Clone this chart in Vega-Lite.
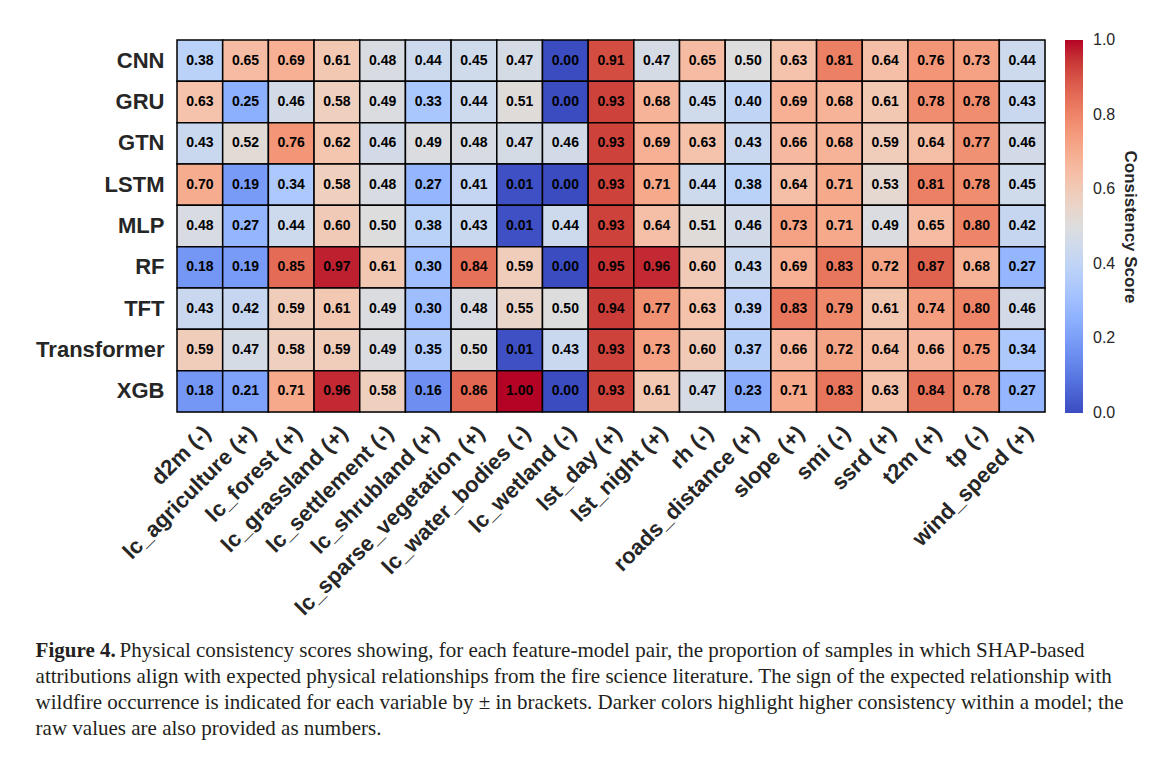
{
  "$schema": "https://vega.github.io/schema/vega-lite/v6.json",
  "autosize": {"type": "none"},
  "padding": {"left": 177, "top": 40, "right": 122, "bottom": 346},
  "width": 868,
  "height": 372,
  "background": "white",
  "title": {
    "text": "Figure 4.",
    "subtitle": [
      "\u200b\u00a0\u00a0\u00a0\u00a0\u00a0\u00a0\u00a0\u00a0\u00a0\u00a0\u00a0\u00a0\u00a0\u00a0\u00a0\u00a0Physical consistency scores showing, for each feature-model pair, the proportion of samples in which SHAP-based",
      "attributions align with expected physical relationships from the fire science literature. The sign of the expected relationship with",
      "wildfire occurrence is indicated for each variable by ± in brackets. Darker colors highlight higher consistency within a model; the",
      "raw values are also provided as numbers."
    ],
    "orient": "bottom",
    "anchor": "start",
    "frame": "bounds",
    "font": "Liberation Serif",
    "fontSize": 21,
    "fontWeight": "bold",
    "color": "#231f20",
    "subtitleFont": "Liberation Serif",
    "subtitleFontSize": 21,
    "subtitleFontWeight": "normal",
    "subtitleColor": "#231f20",
    "subtitleLineHeight": 26,
    "subtitlePadding": -21,
    "offset": 21
  },
  "data": {
    "values": [
      {"model": "CNN", "feature": "d2m (-)", "score": 0.38},
      {"model": "CNN", "feature": "lc_agriculture (+)", "score": 0.65},
      {"model": "CNN", "feature": "lc_forest (+)", "score": 0.69},
      {"model": "CNN", "feature": "lc_grassland (+)", "score": 0.61},
      {"model": "CNN", "feature": "lc_settlement (-)", "score": 0.48},
      {"model": "CNN", "feature": "lc_shrubland (+)", "score": 0.44},
      {"model": "CNN", "feature": "lc_sparse_vegetation (+)", "score": 0.45},
      {"model": "CNN", "feature": "lc_water_bodies (-)", "score": 0.47},
      {"model": "CNN", "feature": "lc_wetland (-)", "score": 0.00},
      {"model": "CNN", "feature": "lst_day (+)", "score": 0.91},
      {"model": "CNN", "feature": "lst_night (+)", "score": 0.47},
      {"model": "CNN", "feature": "rh (-)", "score": 0.65},
      {"model": "CNN", "feature": "roads_distance (+)", "score": 0.50},
      {"model": "CNN", "feature": "slope (+)", "score": 0.63},
      {"model": "CNN", "feature": "smi (-)", "score": 0.81},
      {"model": "CNN", "feature": "ssrd (+)", "score": 0.64},
      {"model": "CNN", "feature": "t2m (+)", "score": 0.76},
      {"model": "CNN", "feature": "tp (-)", "score": 0.73},
      {"model": "CNN", "feature": "wind_speed (+)", "score": 0.44},
      {"model": "GRU", "feature": "d2m (-)", "score": 0.63},
      {"model": "GRU", "feature": "lc_agriculture (+)", "score": 0.25},
      {"model": "GRU", "feature": "lc_forest (+)", "score": 0.46},
      {"model": "GRU", "feature": "lc_grassland (+)", "score": 0.58},
      {"model": "GRU", "feature": "lc_settlement (-)", "score": 0.49},
      {"model": "GRU", "feature": "lc_shrubland (+)", "score": 0.33},
      {"model": "GRU", "feature": "lc_sparse_vegetation (+)", "score": 0.44},
      {"model": "GRU", "feature": "lc_water_bodies (-)", "score": 0.51},
      {"model": "GRU", "feature": "lc_wetland (-)", "score": 0.00},
      {"model": "GRU", "feature": "lst_day (+)", "score": 0.93},
      {"model": "GRU", "feature": "lst_night (+)", "score": 0.68},
      {"model": "GRU", "feature": "rh (-)", "score": 0.45},
      {"model": "GRU", "feature": "roads_distance (+)", "score": 0.40},
      {"model": "GRU", "feature": "slope (+)", "score": 0.69},
      {"model": "GRU", "feature": "smi (-)", "score": 0.68},
      {"model": "GRU", "feature": "ssrd (+)", "score": 0.61},
      {"model": "GRU", "feature": "t2m (+)", "score": 0.78},
      {"model": "GRU", "feature": "tp (-)", "score": 0.78},
      {"model": "GRU", "feature": "wind_speed (+)", "score": 0.43},
      {"model": "GTN", "feature": "d2m (-)", "score": 0.43},
      {"model": "GTN", "feature": "lc_agriculture (+)", "score": 0.52},
      {"model": "GTN", "feature": "lc_forest (+)", "score": 0.76},
      {"model": "GTN", "feature": "lc_grassland (+)", "score": 0.62},
      {"model": "GTN", "feature": "lc_settlement (-)", "score": 0.46},
      {"model": "GTN", "feature": "lc_shrubland (+)", "score": 0.49},
      {"model": "GTN", "feature": "lc_sparse_vegetation (+)", "score": 0.48},
      {"model": "GTN", "feature": "lc_water_bodies (-)", "score": 0.47},
      {"model": "GTN", "feature": "lc_wetland (-)", "score": 0.46},
      {"model": "GTN", "feature": "lst_day (+)", "score": 0.93},
      {"model": "GTN", "feature": "lst_night (+)", "score": 0.69},
      {"model": "GTN", "feature": "rh (-)", "score": 0.63},
      {"model": "GTN", "feature": "roads_distance (+)", "score": 0.43},
      {"model": "GTN", "feature": "slope (+)", "score": 0.66},
      {"model": "GTN", "feature": "smi (-)", "score": 0.68},
      {"model": "GTN", "feature": "ssrd (+)", "score": 0.59},
      {"model": "GTN", "feature": "t2m (+)", "score": 0.64},
      {"model": "GTN", "feature": "tp (-)", "score": 0.77},
      {"model": "GTN", "feature": "wind_speed (+)", "score": 0.46},
      {"model": "LSTM", "feature": "d2m (-)", "score": 0.70},
      {"model": "LSTM", "feature": "lc_agriculture (+)", "score": 0.19},
      {"model": "LSTM", "feature": "lc_forest (+)", "score": 0.34},
      {"model": "LSTM", "feature": "lc_grassland (+)", "score": 0.58},
      {"model": "LSTM", "feature": "lc_settlement (-)", "score": 0.48},
      {"model": "LSTM", "feature": "lc_shrubland (+)", "score": 0.27},
      {"model": "LSTM", "feature": "lc_sparse_vegetation (+)", "score": 0.41},
      {"model": "LSTM", "feature": "lc_water_bodies (-)", "score": 0.01},
      {"model": "LSTM", "feature": "lc_wetland (-)", "score": 0.00},
      {"model": "LSTM", "feature": "lst_day (+)", "score": 0.93},
      {"model": "LSTM", "feature": "lst_night (+)", "score": 0.71},
      {"model": "LSTM", "feature": "rh (-)", "score": 0.44},
      {"model": "LSTM", "feature": "roads_distance (+)", "score": 0.38},
      {"model": "LSTM", "feature": "slope (+)", "score": 0.64},
      {"model": "LSTM", "feature": "smi (-)", "score": 0.71},
      {"model": "LSTM", "feature": "ssrd (+)", "score": 0.53},
      {"model": "LSTM", "feature": "t2m (+)", "score": 0.81},
      {"model": "LSTM", "feature": "tp (-)", "score": 0.78},
      {"model": "LSTM", "feature": "wind_speed (+)", "score": 0.45},
      {"model": "MLP", "feature": "d2m (-)", "score": 0.48},
      {"model": "MLP", "feature": "lc_agriculture (+)", "score": 0.27},
      {"model": "MLP", "feature": "lc_forest (+)", "score": 0.44},
      {"model": "MLP", "feature": "lc_grassland (+)", "score": 0.60},
      {"model": "MLP", "feature": "lc_settlement (-)", "score": 0.50},
      {"model": "MLP", "feature": "lc_shrubland (+)", "score": 0.38},
      {"model": "MLP", "feature": "lc_sparse_vegetation (+)", "score": 0.43},
      {"model": "MLP", "feature": "lc_water_bodies (-)", "score": 0.01},
      {"model": "MLP", "feature": "lc_wetland (-)", "score": 0.44},
      {"model": "MLP", "feature": "lst_day (+)", "score": 0.93},
      {"model": "MLP", "feature": "lst_night (+)", "score": 0.64},
      {"model": "MLP", "feature": "rh (-)", "score": 0.51},
      {"model": "MLP", "feature": "roads_distance (+)", "score": 0.46},
      {"model": "MLP", "feature": "slope (+)", "score": 0.73},
      {"model": "MLP", "feature": "smi (-)", "score": 0.71},
      {"model": "MLP", "feature": "ssrd (+)", "score": 0.49},
      {"model": "MLP", "feature": "t2m (+)", "score": 0.65},
      {"model": "MLP", "feature": "tp (-)", "score": 0.80},
      {"model": "MLP", "feature": "wind_speed (+)", "score": 0.42},
      {"model": "RF", "feature": "d2m (-)", "score": 0.18},
      {"model": "RF", "feature": "lc_agriculture (+)", "score": 0.19},
      {"model": "RF", "feature": "lc_forest (+)", "score": 0.85},
      {"model": "RF", "feature": "lc_grassland (+)", "score": 0.97},
      {"model": "RF", "feature": "lc_settlement (-)", "score": 0.61},
      {"model": "RF", "feature": "lc_shrubland (+)", "score": 0.30},
      {"model": "RF", "feature": "lc_sparse_vegetation (+)", "score": 0.84},
      {"model": "RF", "feature": "lc_water_bodies (-)", "score": 0.59},
      {"model": "RF", "feature": "lc_wetland (-)", "score": 0.00},
      {"model": "RF", "feature": "lst_day (+)", "score": 0.95},
      {"model": "RF", "feature": "lst_night (+)", "score": 0.96},
      {"model": "RF", "feature": "rh (-)", "score": 0.60},
      {"model": "RF", "feature": "roads_distance (+)", "score": 0.43},
      {"model": "RF", "feature": "slope (+)", "score": 0.69},
      {"model": "RF", "feature": "smi (-)", "score": 0.83},
      {"model": "RF", "feature": "ssrd (+)", "score": 0.72},
      {"model": "RF", "feature": "t2m (+)", "score": 0.87},
      {"model": "RF", "feature": "tp (-)", "score": 0.68},
      {"model": "RF", "feature": "wind_speed (+)", "score": 0.27},
      {"model": "TFT", "feature": "d2m (-)", "score": 0.43},
      {"model": "TFT", "feature": "lc_agriculture (+)", "score": 0.42},
      {"model": "TFT", "feature": "lc_forest (+)", "score": 0.59},
      {"model": "TFT", "feature": "lc_grassland (+)", "score": 0.61},
      {"model": "TFT", "feature": "lc_settlement (-)", "score": 0.49},
      {"model": "TFT", "feature": "lc_shrubland (+)", "score": 0.30},
      {"model": "TFT", "feature": "lc_sparse_vegetation (+)", "score": 0.48},
      {"model": "TFT", "feature": "lc_water_bodies (-)", "score": 0.55},
      {"model": "TFT", "feature": "lc_wetland (-)", "score": 0.50},
      {"model": "TFT", "feature": "lst_day (+)", "score": 0.94},
      {"model": "TFT", "feature": "lst_night (+)", "score": 0.77},
      {"model": "TFT", "feature": "rh (-)", "score": 0.63},
      {"model": "TFT", "feature": "roads_distance (+)", "score": 0.39},
      {"model": "TFT", "feature": "slope (+)", "score": 0.83},
      {"model": "TFT", "feature": "smi (-)", "score": 0.79},
      {"model": "TFT", "feature": "ssrd (+)", "score": 0.61},
      {"model": "TFT", "feature": "t2m (+)", "score": 0.74},
      {"model": "TFT", "feature": "tp (-)", "score": 0.80},
      {"model": "TFT", "feature": "wind_speed (+)", "score": 0.46},
      {"model": "Transformer", "feature": "d2m (-)", "score": 0.59},
      {"model": "Transformer", "feature": "lc_agriculture (+)", "score": 0.47},
      {"model": "Transformer", "feature": "lc_forest (+)", "score": 0.58},
      {"model": "Transformer", "feature": "lc_grassland (+)", "score": 0.59},
      {"model": "Transformer", "feature": "lc_settlement (-)", "score": 0.49},
      {"model": "Transformer", "feature": "lc_shrubland (+)", "score": 0.35},
      {"model": "Transformer", "feature": "lc_sparse_vegetation (+)", "score": 0.50},
      {"model": "Transformer", "feature": "lc_water_bodies (-)", "score": 0.01},
      {"model": "Transformer", "feature": "lc_wetland (-)", "score": 0.43},
      {"model": "Transformer", "feature": "lst_day (+)", "score": 0.93},
      {"model": "Transformer", "feature": "lst_night (+)", "score": 0.73},
      {"model": "Transformer", "feature": "rh (-)", "score": 0.60},
      {"model": "Transformer", "feature": "roads_distance (+)", "score": 0.37},
      {"model": "Transformer", "feature": "slope (+)", "score": 0.66},
      {"model": "Transformer", "feature": "smi (-)", "score": 0.72},
      {"model": "Transformer", "feature": "ssrd (+)", "score": 0.64},
      {"model": "Transformer", "feature": "t2m (+)", "score": 0.66},
      {"model": "Transformer", "feature": "tp (-)", "score": 0.75},
      {"model": "Transformer", "feature": "wind_speed (+)", "score": 0.34},
      {"model": "XGB", "feature": "d2m (-)", "score": 0.18},
      {"model": "XGB", "feature": "lc_agriculture (+)", "score": 0.21},
      {"model": "XGB", "feature": "lc_forest (+)", "score": 0.71},
      {"model": "XGB", "feature": "lc_grassland (+)", "score": 0.96},
      {"model": "XGB", "feature": "lc_settlement (-)", "score": 0.58},
      {"model": "XGB", "feature": "lc_shrubland (+)", "score": 0.16},
      {"model": "XGB", "feature": "lc_sparse_vegetation (+)", "score": 0.86},
      {"model": "XGB", "feature": "lc_water_bodies (-)", "score": 1.00},
      {"model": "XGB", "feature": "lc_wetland (-)", "score": 0.00},
      {"model": "XGB", "feature": "lst_day (+)", "score": 0.93},
      {"model": "XGB", "feature": "lst_night (+)", "score": 0.61},
      {"model": "XGB", "feature": "rh (-)", "score": 0.47},
      {"model": "XGB", "feature": "roads_distance (+)", "score": 0.23},
      {"model": "XGB", "feature": "slope (+)", "score": 0.71},
      {"model": "XGB", "feature": "smi (-)", "score": 0.83},
      {"model": "XGB", "feature": "ssrd (+)", "score": 0.63},
      {"model": "XGB", "feature": "t2m (+)", "score": 0.84},
      {"model": "XGB", "feature": "tp (-)", "score": 0.78},
      {"model": "XGB", "feature": "wind_speed (+)", "score": 0.27}
    ]
  },
  "encoding": {
    "x": {
      "field": "feature",
      "type": "nominal",
      "sort": null,
      "scale": {"paddingInner": 0, "paddingOuter": 0},
      "axis": {
        "title": null,
        "labelAngle": -45,
        "labelAlign": "right",
        "labelBaseline": "top",
        "labelPadding": 10,
        "ticks": false,
        "domain": false,
        "labelFont": "Liberation Sans",
        "labelFontSize": 22,
        "labelFontWeight": "bold",
        "labelColor": "#262626",
        "labelLimit": 0
      }
    },
    "y": {
      "field": "model",
      "type": "nominal",
      "sort": null,
      "scale": {"paddingInner": 0, "paddingOuter": 0},
      "axis": {
        "title": null,
        "ticks": false,
        "domain": false,
        "labelPadding": 13,
        "labelFont": "Liberation Sans",
        "labelFontSize": 22,
        "labelFontWeight": "bold",
        "labelColor": "#262626",
        "labelLimit": 0
      }
    }
  },
  "layer": [
    {
      "mark": {"type": "rect", "stroke": "black", "strokeWidth": 1.5},
      "encoding": {
        "color": {
          "field": "score",
          "type": "quantitative",
          "scale": {
            "domain": [0, 0.0625, 0.125, 0.1875, 0.25, 0.3125, 0.375, 0.4375, 0.5, 0.5625, 0.625, 0.6875, 0.75, 0.8125, 0.875, 0.9375, 1],
            "range": ["#3b4cc0", "#4d68d7", "#6282ea", "#779af7", "#8db0fe", "#a3c2ff", "#b8d0f9", "#ccd9ee", "#dddddd", "#ecd3c5", "#f5c4ad", "#f7b194", "#f49a7b", "#ec7f63", "#de604d", "#cb3e38", "#b40426"],
            "interpolate": "rgb"
          },
          "legend": {
            "title": "Consistency Score",
            "orient": "right",
            "offset": 20,
            "direction": "vertical",
            "gradientLength": 373,
            "gradientThickness": 18,
            "gradientStrokeWidth": 0,
            "values": [0, 0.2, 0.4, 0.6, 0.8, 1.0],
            "format": ".1f",
            "labelFont": "Liberation Sans",
            "labelFontSize": 16,
            "labelColor": "#262626",
            "labelOffset": 10,
            "labelOverlap": false,
            "titleOrient": "right",
            "titleAngle": 270,
            "titleAnchor": "middle",
            "titleFont": "Liberation Sans",
            "titleFontSize": 17,
            "titleFontWeight": "bold",
            "titleColor": "#262626",
            "titlePadding": 6,
            "encode": {
              "labels": {"update": {"baseline": {"value": "middle"}}}
            }
          }
        }
      }
    },
    {
      "mark": {"type": "text", "font": "Liberation Sans", "fontSize": 14, "fontWeight": "bold", "color": "black"},
      "encoding": {
        "text": {"field": "score", "type": "quantitative", "format": ".2f"}
      }
    }
  ]
}
